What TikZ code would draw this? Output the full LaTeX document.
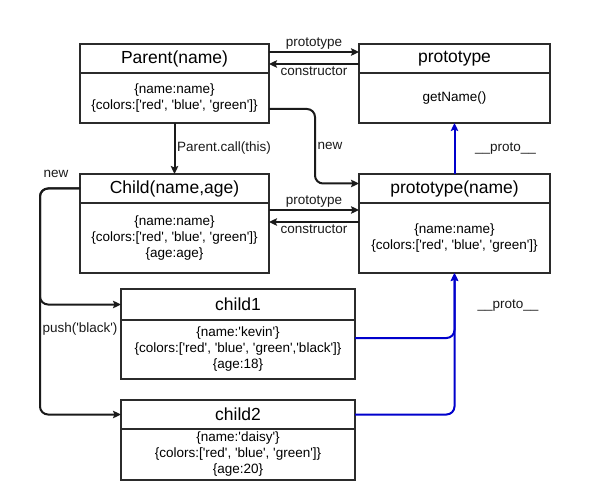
\documentclass[tikz,border=0pt]{standalone}
\usepackage{fontspec}
\setmainfont{Liberation Sans}[Ligatures=TeXOff]
\usepackage{tikz}
\usetikzlibrary{arrows.meta,positioning}
\usepackage{xcolor}
\definecolor{ink}{HTML}{1A1A1A}
\definecolor{boxline}{HTML}{2B2B2B}
\definecolor{protoblue}{HTML}{0000CC}
\tikzset{
  head/.style={draw=boxline,line width=1.6pt,outer sep=0pt,inner sep=2pt,
    minimum width=189pt,minimum height=29pt,font=\fontsize{17.5}{20}\selectfont},
  body/.style={draw=boxline,line width=1.6pt,outer sep=0pt,inner sep=2pt,align=center,
    minimum width=189pt,font=\fontsize{13.5}{16}\selectfont},
  arrow/.style={-{Stealth[length=8pt,width=7.5pt,inset=1.5pt]},draw=ink,line width=2pt},
  protoarrow/.style={arrow,draw=protoblue},
  labelstyle/.style={font=\fontsize{13.5}{16}\selectfont,inner sep=1.5pt,text=ink}
}

\begin{document}
\begin{tikzpicture}[x=1pt,y=-1pt]
        \useasboundingbox (0,0) rectangle (600,500);
        \node[head] (parent) at (174.5,58.5) {Parent(name)};
        \node[body,minimum height=50pt,below=0pt of parent] (parentBody) {\{name:name\}\\\{colors:['red', 'blue', 'green']\}};
        \node[head,minimum width=191pt] (proto) at (454.5,58.5) {prototype};
        \node[body,minimum width=191pt,minimum height=50pt,below=0pt of proto] (protoBody) {getName()};
        \node[head] (child) at (174.5,188.5) {Child(name,age)};
        \node[body,minimum height=70pt,below=0pt of child] (childBody) {\{name:name\}\\\{colors:['red', 'blue', 'green']\}\\\{age:age\}};
        \node[head,minimum width=191pt] (protoName) at (454.5,188.5) {prototype(name)};
        \node[body,minimum width=191pt,minimum height=70pt,below=0pt of protoName] (protoNameBody) {\{name:name\}\\\{colors:['red', 'blue', 'green']\}};
        \node[head,minimum width=234pt,minimum height=31pt] (child1) at (238,304.5) {child1};
        \node[body,minimum width=234pt,minimum height=59pt,below=0pt of child1] (child1Body) {\{name:'kevin'\}\\\{colors:['red', 'blue', 'green','black']\}\\\{age:18\}};
        \node[head,minimum width=234pt] (child2) at (238,414.5) {child2};
        \node[body,minimum width=234pt,minimum height=51pt,below=0pt of child2] (child2Body) {\{name:'daisy'\}\\\{colors:['red', 'blue', 'green']\}\\\{age:20\}};
        \draw[arrow] ([yshift=6.5pt]parent.east) -- node[above,labelstyle]{prototype} ([yshift=6.5pt]proto.west);
        \draw[arrow] ([yshift=-5.5pt]proto.west) -- node[below,labelstyle]{constructor} ([yshift=-5.5pt]parent.east);
        \draw[arrow] (parentBody.south) -- node[right,labelstyle]{Parent.call(this)} (child.north);
        \draw[arrow,rounded corners=8pt] ([yshift=-11pt]parentBody.east) -- ++(46,0) |- node[pos=0.25,right,labelstyle]{new} ([yshift=5pt]protoName.west);
        \draw[arrow] ([yshift=28pt]childBody.east) -- node[above,labelstyle]{prototype} ([yshift=28pt]protoNameBody.west);
        \draw[arrow] ([yshift=16pt]protoNameBody.west) -- node[below,labelstyle]{constructor} ([yshift=16pt]childBody.east);
        \draw[protoarrow] (protoName.north) -- node[right=18pt,labelstyle]{\_\_proto\_\_} (protoBody.south);
        \draw[arrow,rounded corners=8pt] (child.west) -- node[pos=0.6,above=8pt,labelstyle]{new} ++(-40,0) |- (child1.west);
        \draw[arrow,rounded corners=8pt] (child.west) -- ++(-40,0) |- node[pos=0.31,right=0pt,labelstyle]{push('black')} (child2.west);
        \draw[protoarrow,rounded corners=8pt] ([yshift=11.5pt]child1Body.east) -| (protoNameBody.south);
        \draw[protoarrow,rounded corners=8pt] (child2.east) -| (protoNameBody.south);
        \node[labelstyle] (protoLabel) at (508,306) {\_\_proto\_\_};
      \end{tikzpicture}
\end{document}
